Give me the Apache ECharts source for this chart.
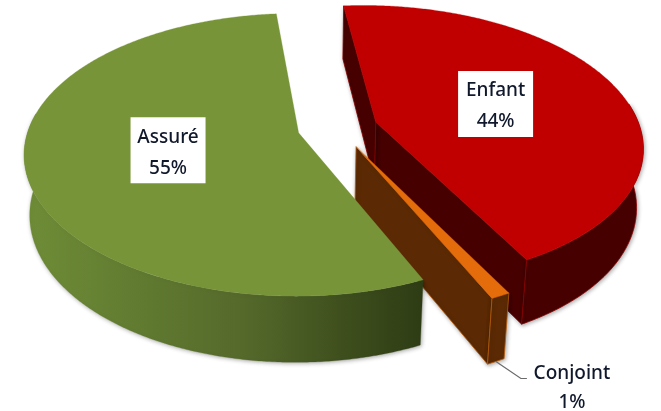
<!DOCTYPE html>
<html>
<head>
<meta charset="utf-8">
<style>html,body{margin:0;padding:0;background:#fff}#chart{width:661px;height:411px}</style>
<script src="https://cdn.jsdelivr.net/npm/echarts@6/dist/echarts.min.js"></script>
</head>
<body>
<div id="chart"></div>
<script>
// Répartition par lien de parenté
const categories = ['Enfant', 'Conjoint', 'Assuré'];
const shares = [44, 1, 55];

const topColors = ['#c00000', '#e46c0a', '#789439'];
const sideColors = ['#470000', '#5b2a04', null];
const edgeColors = ['#8a0000', '#b85a08', null];

// Perspective camera: disc of radius 1 in the (u, v) plane, thickness along z
const cam = { x: 299, y: 133, rx: 269, ry: 138, persp: 0.155, tilt: 0.008, sink: 0.02, depth: 60.5 };
const hub = { u: 0.1448, v: -0.0388 };
const startAngle = -5.5;
const explode = 0.151;
const labelRadius = 0.49;
const wallFrom = 82, wallTo = 278;
const FONT = '"Noto Sans", sans-serif';

function project(u, v, z) {
  const w = 1 - cam.persp * v + cam.tilt * u + cam.sink * z;
  return [cam.x + cam.rx * u / w, cam.y + (cam.ry * v + cam.depth * z) / w];
}
const polar = (deg, r) => [r * Math.sin(deg * Math.PI / 180), -r * Math.cos(deg * Math.PI / 180)];

const total = shares.reduce((a, b) => a + b, 0);
let running = startAngle;
const slices = shares.map((s, i) => {
  const a0 = running;
  const a1 = a0 + s / total * 360;
  running = a1;
  const mid = (a0 + a1) / 2;
  const off = polar(mid, explode);
  return { a0, a1, mid, apex: [hub.u + off[0], hub.v + off[1]], name: categories[i], value: s };
});

function rim(slice, from, to, z) {
  const pts = [];
  const n = Math.max(2, Math.ceil(to - from) * 2);
  for (let j = 0; j <= n; j++) {
    const p = polar(from + (to - from) * j / n, 1);
    pts.push(project(slice.apex[0] + p[0], slice.apex[1] + p[1], z));
  }
  return pts;
}

const greenSide = () => new echarts.graphic.LinearGradient(0, 0, 1, 0, [
  { offset: 0, color: '#6f8d37' },
  { offset: 0.3, color: '#607a30' },
  { offset: 0.55, color: '#55692b' },
  { offset: 0.8, color: '#3e4f1d' },
  { offset: 1, color: '#2e3c14' }
]);

function face(points, fill, stroke, shadow) {
  const style = { fill, stroke: stroke || fill, lineWidth: stroke ? 0.8 : 0.3 };
  if (shadow) {
    style.shadowBlur = 4;
    style.shadowColor = 'rgba(0,0,0,0.35)';
    style.shadowOffsetX = 1;
    style.shadowOffsetY = 1;
  }
  return { type: 'polygon', shape: { points }, style };
}

function renderSlice(params) {
  const i = params.dataIndex;
  const s = slices[i];
  const apexTop = project(s.apex[0], s.apex[1], 0);
  const apexBottom = project(s.apex[0], s.apex[1], 1);
  const top = rim(s, s.a0, s.a1, 0);
  const fill = sideColors[i] || greenSide();
  const edge = edgeColors[i];
  const children = [];

  // Radial cut faces, then the part of the curved wall facing the viewer, then the lid
  if (i < 2) {
    const a = rim(s, s.a1, s.a1, 0)[0], b = rim(s, s.a1, s.a1, 1)[0];
    children.push(face([apexTop, a, b, apexBottom], fill, edge, true));
  }
  if (i === 0) {
    const a = rim(s, s.a0, s.a0, 0)[0], b = rim(s, s.a0, s.a0, 1)[0];
    children.push(face([apexTop, a, b, apexBottom], fill, edge, true));
  }
  const from = Math.max(s.a0, wallFrom), to = Math.min(s.a1, wallTo);
  const wallTop = rim(s, from, to, 0);
  const wallBottom = rim(s, from, to, 1);
  children.push(face(wallTop.concat(wallBottom.slice().reverse()), fill, edge, true));
  children.push(face([apexTop].concat(top), topColors[i]));

  const text = s.name + '\n' + s.value + '%';
  if (s.value >= 5) {
    const d = polar(s.mid, labelRadius);
    const c = project(s.apex[0] + d[0], s.apex[1] + d[1], 0);
    const bw = 75, bh = 66;
    children.push({ type: 'rect', shape: { x: c[0] - bw / 2, y: c[1] - bh / 2, width: bw, height: bh }, style: { fill: '#fff' } });
    children.push({ type: 'text', x: c[0], y: c[1] + 2.5, style: { text, font: '500 19px ' + FONT, fill: '#10182c', align: 'center', verticalAlign: 'middle', lineHeight: 31 } });
  } else {
    const a = wallBottom[Math.floor(wallBottom.length / 2)];
    const elbow = [a[0] + 25, a[1] + 17];
    children.push({ type: 'polyline', shape: { points: [a, elbow, [elbow[0] + 6, elbow[1]]] }, style: { stroke: '#6a6a6a', lineWidth: 1.2, fill: null } });
    children.push({ type: 'text', x: elbow[0] + 51, y: elbow[1] + 10, style: { text, font: '500 19px ' + FONT, fill: '#10182c', align: 'center', verticalAlign: 'middle', lineHeight: 29 } });
  }
  return { type: 'group', children };
}

const chart = echarts.init(document.getElementById('chart'), null, { renderer: 'canvas' });
chart.setOption({
  backgroundColor: '#fff',
  animation: false,
  series: [{
    type: 'custom',
    coordinateSystem: 'none',
    clip: false,
    silent: true,
    renderItem: renderSlice,
    data: categories.map((name, i) => ({ name, value: shares[i] }))
  }]
});
</script>
</body>
</html>
